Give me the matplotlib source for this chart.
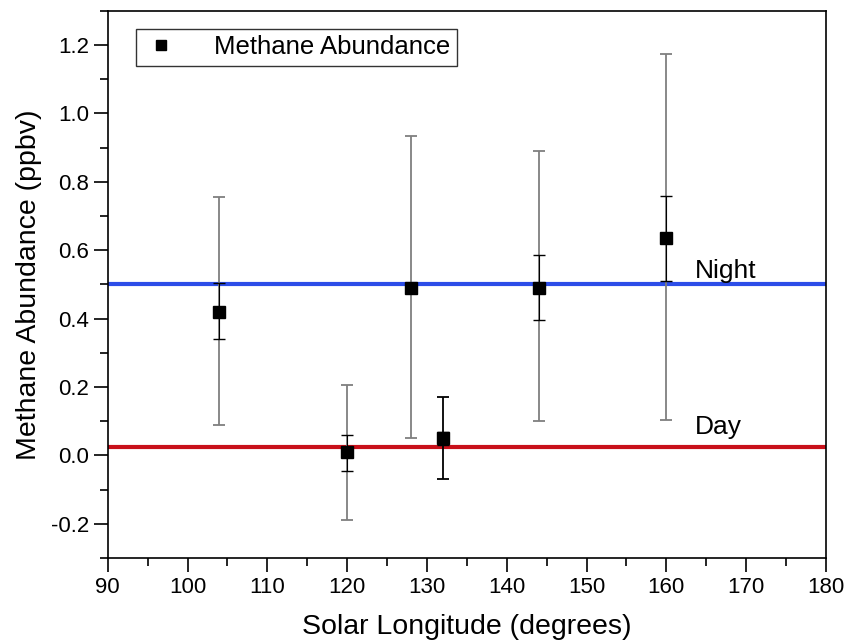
import numpy as np
import matplotlib.pyplot as plt

plt.rcParams['font.family'] = ['Liberation Sans', 'DejaVu Sans']

# solar longitude of each measurement and the methane value
ls = [104, 120, 128, 132, 144, 160]
ch4 = [0.42, 0.01, 0.49, 0.05, 0.49, 0.635]
# wide error range
err_lo = [0.09, -0.19, 0.05, -0.07, 0.10, 0.105]
err_hi = [0.755, 0.205, 0.935, 0.17, 0.89, 1.175]
# narrow error range
in_lo = [0.34, -0.045, 0.475, 0.03, 0.395, 0.51]
in_hi = [0.505, 0.06, 0.505, 0.07, 0.585, 0.76]
bar_col = ['#7f7f7f', '#7f7f7f', '#7f7f7f', '#000000', '#7f7f7f', '#7f7f7f']

night = 0.50
day = 0.025

fig = plt.figure(figsize=(8.48, 6.4), dpi=100)
ax = fig.add_axes([0.127, 0.128, 0.847, 0.855])

ax.axhline(night, color='#2c4de8', lw=3, zorder=1)
ax.axhline(day, color='#c8101a', lw=3, zorder=1)

x = np.array(ls)
y = np.array(ch4)
for i in range(len(x)):
    ax.errorbar(x[i], y[i], yerr=[[y[i] - err_lo[i]], [err_hi[i] - y[i]]],
                fmt='none', ecolor=bar_col[i], elinewidth=1.3, capsize=4.5,
                capthick=1.3, zorder=2)
    ax.errorbar(x[i], y[i], yerr=[[y[i] - in_lo[i]], [in_hi[i] - y[i]]],
                fmt='none', ecolor='black', elinewidth=0.8, capsize=4.5,
                capthick=1.0, zorder=3)
ax.plot(x, y, 's', color='black', ms=8.5, zorder=4, label='Methane Abundance')

ax.text(163.6, 0.52, 'Night', fontsize=19)
ax.text(163.6, 0.064, 'Day', fontsize=19)

ax.set_xlim(90, 180)
ax.set_ylim(-0.3, 1.3)
ax.set_xticks(np.arange(90, 181, 10))
ax.set_xticks(np.arange(95, 180, 10), minor=True)
ax.set_yticks([-0.2, 0.0, 0.2, 0.4, 0.6, 0.8, 1.0, 1.2])
ax.set_yticks(np.arange(-0.3, 1.31, 0.2), minor=True)
ax.tick_params(which='major', direction='out', length=10, width=1.2, labelsize=16)
ax.tick_params(which='minor', direction='out', length=6, width=1.2)
ax.set_yticklabels(['-0.2', '0.0', '0.2', '0.4', '0.6', '0.8', '1.0', '1.2'])
for s in ax.spines.values():
    s.set_linewidth(1.2)

ax.set_xlabel('Solar Longitude (degrees)', fontsize=20.5, labelpad=12)
ax.set_ylabel('Methane Abundance (ppbv)', fontsize=20.5, labelpad=6)

leg = ax.legend(loc='upper left', bbox_to_anchor=(0.039, 0.967), fontsize=18.5,
                frameon=True, fancybox=False, edgecolor='black',
                handletextpad=1.3, borderpad=0.25, markerscale=0.8,
                handlelength=1.5, borderaxespad=0)
leg.get_frame().set_linewidth(1.0)

fig.savefig('out.png', dpi=100)
